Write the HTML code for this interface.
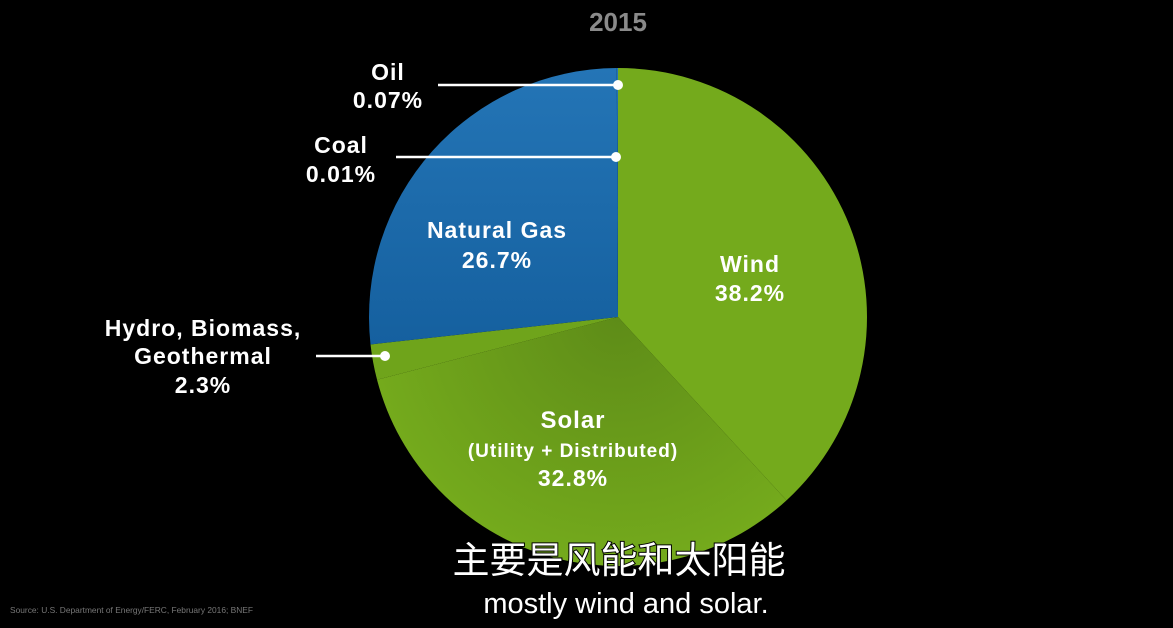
<!DOCTYPE html>
<html><head><meta charset="utf-8"><style>
html,body{margin:0;padding:0;background:#000;width:1173px;height:628px;overflow:hidden;font-family:"Liberation Sans","Noto Sans CJK SC",sans-serif}
svg{display:block}
</style></head><body>
<svg width="1173" height="628">
<defs>
<radialGradient id="sg" cx="618" cy="317" r="249" gradientUnits="userSpaceOnUse">
<stop offset="0" stop-color="#5e8c18"/><stop offset="1" stop-color="#74aa1c"/></radialGradient>
<linearGradient id="bg" x1="0" y1="0" x2="0" y2="1">
<stop offset="0" stop-color="#2475b6"/><stop offset="1" stop-color="#15609f"/></linearGradient>
</defs>
<text x="618" y="31" text-anchor="middle" fill="#8a8a8a" font-size="26" font-weight="bold">2015</text>
<g id="slices"></g>
<g id="labels" font-weight="bold" fill="#fff" text-anchor="middle" letter-spacing="1"></g>
<text x="10" y="613" fill="#777" font-size="8.4">Source: U.S. Department of Energy/FERC, February 2016; BNEF</text>
<text x="619" y="573" text-anchor="middle" fill="#fff" font-size="37" font-family="'Noto Sans CJK SC',sans-serif" stroke="#000" stroke-width="2" paint-order="stroke">主要是风能和太阳能</text>
<text x="626" y="613" text-anchor="middle" fill="#fff" font-size="29" stroke="#000" stroke-width="2" paint-order="stroke">mostly wind and solar.</text>
</svg>
<script>
const categories=["Wind","Solar","Hydro, Biomass, Geothermal","Natural Gas","Coal","Oil"];
const values=[38.2,32.8,2.3,26.7,0.01,0.07];
const colors=["#74aa1c","url(#sg)","#6fa41b","url(#bg)","url(#bg)","url(#bg)"];
const cx=618,cy=317,r=249;
const NS="http://www.w3.org/2000/svg";
const total=values.reduce((a,b)=>a+b,0);
function pt(a,rr){return [cx+rr*Math.sin(a),cy-rr*Math.cos(a)];}
const g=document.getElementById('slices');
let a0=0;
values.forEach((v,i)=>{
 const a1=a0+v/total*2*Math.PI;
 const p0=pt(a0,r),p1=pt(a1,r);
 const p=document.createElementNS(NS,'path');
 p.setAttribute('d',`M${cx},${cy}L${p0[0]},${p0[1]}A${r},${r} 0 ${a1-a0>Math.PI?1:0} 1 ${p1[0]},${p1[1]}Z`);
 p.setAttribute('fill',colors[i]);
 
 
 g.appendChild(p);
 a0=a1;
});
const L=document.getElementById('labels');
function txt(x,y,s,fs,name){const t=document.createElementNS(NS,'text');t.setAttribute('x',x);t.setAttribute('y',y);t.setAttribute('font-size',fs);t.textContent=s;


L.appendChild(t);}
function fmt(v){return v+'%';}
txt(750,272,"Wind",23,'label-wind');txt(750,301,fmt(values[0].toFixed(1)),23,'value-wind');
txt(573,428,"Solar",24,'label-solar');txt(573,457,"(Utility + Distributed)",19,'label-solar-sub');txt(573,486,fmt(values[1].toFixed(1)),23,'value-solar');
txt(497,238,"Natural Gas",23,'label-natural-gas');txt(497,268,fmt(values[3].toFixed(1)),23,'value-natural-gas');
function leader(x1,y,x2,name){const l=document.createElementNS(NS,'line');l.setAttribute('x1',x1);l.setAttribute('x2',x2);l.setAttribute('y1',y);l.setAttribute('y2',y);l.setAttribute('stroke','#fff');l.setAttribute('stroke-width','2.5');


L.appendChild(l);const c=document.createElementNS(NS,'circle');c.setAttribute('cx',x2);c.setAttribute('cy',y);c.setAttribute('r',5);c.setAttribute('fill','#fff');


L.appendChild(c);}
leader(438,85,618,'oil');txt(388,80,"Oil",23,'label-oil');txt(388,108,fmt(values[5].toFixed(2)),23,'value-oil');
leader(396,157,616,'coal');txt(341,153,"Coal",23,'label-coal');txt(341,182,fmt(values[4].toFixed(2)),23,'value-coal');
leader(316,356,385,'hydro');txt(203,336,"Hydro, Biomass,",23,'label-hydro-1');txt(203,364,"Geothermal",23,'label-hydro-2');txt(203,393,fmt(values[2].toFixed(1)),23,'value-hydro');
</script>
</body></html>
